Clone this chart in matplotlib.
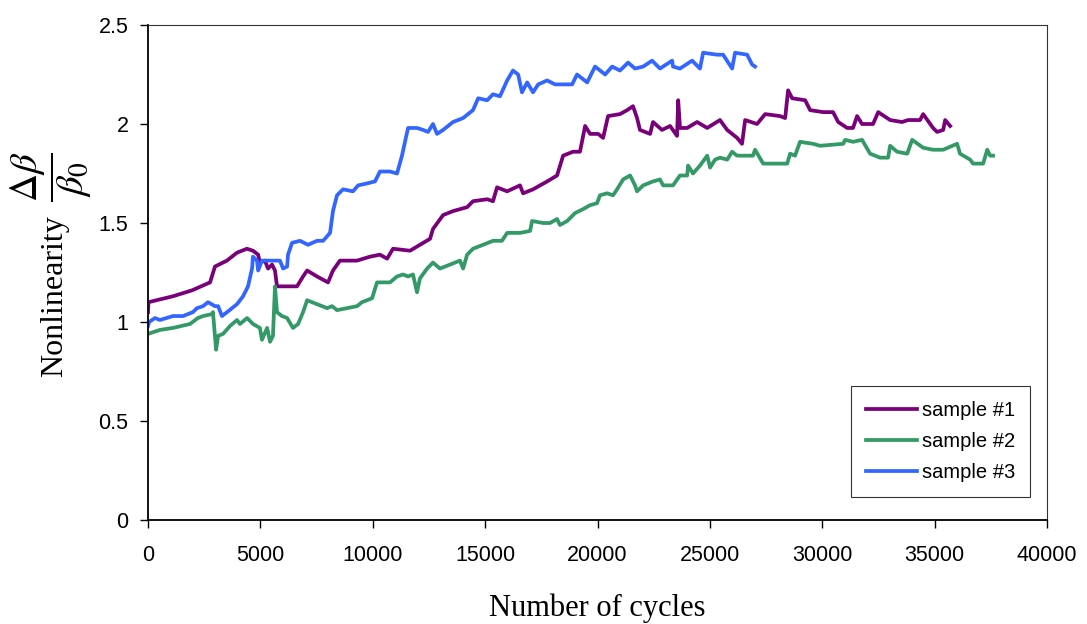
import matplotlib
matplotlib.use('Agg')
import matplotlib.pyplot as plt

plt.rcParams['mathtext.fontset'] = 'stix'

# sample #1 (purple)
s1_x = [0, 20, 1110, 1960, 2760, 2980, 3510, 3960, 4400, 4670, 4900, 4980, 5200,
        5340, 5520, 5650, 5740, 6190, 6630, 6900, 7080, 7520, 8010, 8230, 8540,
        9300, 9880, 10320, 10640, 10900, 11660, 12100, 12550, 12680, 13130,
        13570, 14200, 14460, 15090, 15350, 15530, 15980, 16550, 16690, 17130,
        17760, 18200, 18470, 18910, 19220, 19450, 19670, 20030, 20250, 20470,
        21000, 21320, 21580, 21760, 21890, 22340, 22470, 22870, 23230, 23540,
        23590, 23670, 23990, 24430, 24880, 25450, 25770, 26210, 26430, 26570,
        27100, 27460, 28120, 28350, 28480, 28660, 29240, 29460, 30040, 30480,
        30710, 31110, 31370, 31550, 31770, 32260, 32490, 33020, 33550, 33820,
        34350, 34490, 34930, 35110, 35380, 35470, 35690]
s1_y = [1.05, 1.10, 1.13, 1.16, 1.20, 1.28, 1.31, 1.35, 1.37, 1.36, 1.34, 1.30, 1.31,
        1.27, 1.29, 1.26, 1.18, 1.18, 1.18, 1.23, 1.26, 1.23, 1.20, 1.26, 1.31,
        1.31, 1.33, 1.34, 1.32, 1.37, 1.36, 1.39, 1.42, 1.47, 1.54,
        1.56, 1.58, 1.61, 1.62, 1.61, 1.68, 1.66, 1.69, 1.65, 1.67,
        1.71, 1.74, 1.84, 1.86, 1.86, 1.99, 1.95, 1.95, 1.93, 2.04,
        2.05, 2.07, 2.09, 2.03, 1.97, 1.95, 2.01, 1.97, 1.99, 1.94,
        2.12, 1.98, 1.98, 2.01, 1.98, 2.02, 1.97, 1.93, 1.90, 2.02,
        2.00, 2.05, 2.04, 2.03, 2.17, 2.13, 2.12, 2.07, 2.06, 2.06,
        2.01, 1.98, 1.98, 2.04, 2.00, 2.00, 2.06, 2.02, 2.01, 2.02,
        2.02, 2.05, 1.98, 1.96, 1.97, 2.02, 1.99]

# sample #2 (green)
s2_x = [0, 530, 1110, 1870, 2220, 2450, 2850, 2890, 3030, 3120, 3340, 3650, 3960,
        4090, 4410, 4670, 4980, 5070, 5300, 5430, 5560, 5650, 5740, 5960, 6190,
        6450, 6680, 6900, 7080, 7520, 7970, 8190, 8410, 8860, 9300, 9520, 9970,
        10190, 10770, 11080, 11350, 11570, 11790, 11970, 12100, 12420, 12680,
        12990, 13440, 13880, 14020, 14200, 14460, 14910, 15350, 15750, 15980,
        16550, 17000, 17090, 17580, 17890, 18200, 18330, 18650, 19000, 19360,
        19670, 19980, 20110, 20430, 20690, 20870, 21140, 21450, 21670, 21760,
        22030, 22470, 22780, 22920, 23360, 23670, 23990, 24030, 24250, 24560,
        24880, 25010, 25230, 25450, 25770, 25990, 26210, 26660, 26920, 27010,
        27370, 28440, 28570, 28790, 29010, 29590, 29900, 30930, 31020, 31370,
        31770, 32130, 32570, 32930, 33020, 33330, 33780, 34000, 34490, 34930,
        35380, 36000, 36130, 36580, 36710, 37160, 37340, 37470, 37600]
s2_y = [0.94, 0.96, 0.97, 0.99, 1.02, 1.03, 1.04, 1.05, 0.86, 0.93, 0.94, 0.98, 1.01,
        0.99, 1.02, 0.99, 0.97, 0.91, 0.97, 0.90, 0.93, 1.18, 1.05, 1.03, 1.02,
        0.97, 0.99, 1.05, 1.11, 1.09, 1.07, 1.08, 1.06, 1.07, 1.08, 1.10, 1.12,
        1.20, 1.20, 1.23, 1.24, 1.23, 1.24, 1.15, 1.22, 1.27, 1.30,
        1.27, 1.29, 1.31, 1.27, 1.34, 1.37, 1.39, 1.41, 1.41, 1.45,
        1.45, 1.46, 1.51, 1.50, 1.50, 1.52, 1.49, 1.51, 1.55, 1.57,
        1.59, 1.60, 1.64, 1.65, 1.64, 1.67, 1.72, 1.74, 1.69, 1.66,
        1.69, 1.71, 1.72, 1.69, 1.69, 1.74, 1.74, 1.79, 1.75, 1.79,
        1.84, 1.78, 1.82, 1.83, 1.82, 1.86, 1.84, 1.84, 1.84, 1.87,
        1.80, 1.80, 1.85, 1.84, 1.91, 1.90, 1.89, 1.90, 1.92, 1.91,
        1.92, 1.85, 1.83, 1.83, 1.89, 1.86, 1.85, 1.92, 1.88, 1.87,
        1.87, 1.90, 1.85, 1.82, 1.80, 1.80, 1.87, 1.84, 1.84]

# sample #3 (blue)
s3_x = [0, 50, 310, 530, 1110, 1560, 2000, 2180, 2450, 2670, 2980, 3120, 3290,
        3520, 3960, 4230, 4450, 4630, 4670, 4850, 4900, 5070, 5300, 5740, 5870,
        6010, 6190, 6230, 6410, 6760, 7120, 7520, 7790, 8100, 8230, 8410, 8680,
        9120, 9350, 9750, 10100, 10320, 10770, 11080, 11300, 11570, 11970,
        12240, 12460, 12680, 12860, 13130, 13570, 14020, 14460, 14690, 15090,
        15350, 15660, 15980, 16240, 16470, 16640, 16870, 17130, 17360, 17760,
        18110, 18690, 18870, 19090, 19540, 19890, 20340, 20650, 21000, 21360,
        21670, 22030, 22430, 22780, 23320, 23360, 23670, 24210, 24560, 24700,
        25320, 25590, 25990, 26120, 26660, 26880, 27010]
s3_y = [0.98, 1.00, 1.02, 1.01, 1.03, 1.03, 1.05, 1.07, 1.08, 1.10, 1.08, 1.08, 1.03,
        1.05, 1.09, 1.13, 1.18, 1.27, 1.33, 1.31, 1.26, 1.31, 1.31, 1.31, 1.31,
        1.27, 1.28, 1.34, 1.40, 1.41, 1.39, 1.41, 1.41, 1.45, 1.56, 1.64, 1.67,
        1.66, 1.69, 1.70, 1.71, 1.76, 1.76, 1.75, 1.84, 1.98, 1.98,
        1.97, 1.96, 2.00, 1.95, 1.97, 2.01, 2.03, 2.07, 2.13, 2.12,
        2.15, 2.14, 2.22, 2.27, 2.25, 2.16, 2.21, 2.16, 2.20, 2.22,
        2.20, 2.20, 2.20, 2.25, 2.21, 2.29, 2.25, 2.29, 2.27, 2.31,
        2.28, 2.29, 2.32, 2.28, 2.32, 2.29, 2.28, 2.32, 2.28, 2.36,
        2.35, 2.35, 2.28, 2.36, 2.35, 2.30, 2.29]

labels = ['sample #1', 'sample #2', 'sample #3']
colors = ['#7a007a', '#339966', '#3366ff']

fig = plt.figure(figsize=(10.87, 6.24), dpi=100)
ax = fig.add_axes([148/1087, 104/624, 899/1087, 495/624])

for xs, ys, lab, c in zip([s1_x, s2_x, s3_x], [s1_y, s2_y, s3_y], labels, colors):
    ax.plot(xs, ys, color=c, lw=2.7, label=lab, solid_joinstyle='round')

ax.set_xlim(0, 40000)
ax.set_ylim(0, 2.5)
ax.set_xticks(range(0, 40001, 5000))
ax.set_yticks([0, 0.5, 1, 1.5, 2, 2.5])
ax.set_yticklabels(['0', '0.5', '1', '1.5', '2', '2.5'])

for side in ['left', 'bottom']:
    ax.spines[side].set_linewidth(1.3)
    ax.spines[side].set_color('black')
for side in ['top', 'right']:
    ax.spines[side].set_linewidth(0.8)
    ax.spines[side].set_color('#333333')

ax.tick_params(axis='both', direction='out', length=6, width=1,
               labelsize=15.5, top=False, right=False)
ax.tick_params(axis='x', pad=12)
ax.tick_params(axis='y', pad=8)
for t in ax.get_xticklabels() + ax.get_yticklabels():
    t.set_fontfamily('Liberation Sans')

ax.set_xlabel('Number of cycles', fontsize=22, family='Liberation Serif',
              labelpad=20)

# y label: word and fraction placed separately
fig.text(55/1087, 1 - 296/624, 'Nonlinearity', rotation=90,
         ha='center', va='center', fontsize=23, family='Liberation Serif')
fig.text(51/1087, 1 - 177/624, r'$\dfrac{\Delta\beta}{\beta_0}$',
         rotation=90, ha='center', va='center', fontsize=28)

leg = ax.legend(loc='lower right', bbox_to_anchor=(1030/1087, 127/624),
                bbox_transform=fig.transFigure, frameon=True, fancybox=False,
                edgecolor='black', handlelength=2.5, borderpad=0.75,
                labelspacing=0.6, handletextpad=0.25, borderaxespad=0,
                prop={'family': 'Liberation Sans', 'size': 14.5})
leg.get_frame().set_linewidth(0.8)

fig.savefig('out.png', dpi=100)
